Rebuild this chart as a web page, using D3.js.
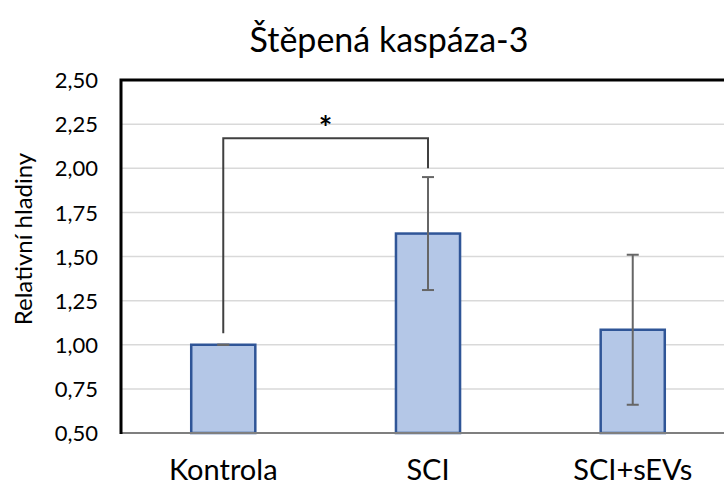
<!DOCTYPE html>
<html><head><meta charset="utf-8">
<script src="https://cdn.jsdelivr.net/npm/d3@7"></script>
<style>body{margin:0;background:#fff;}svg{display:block;}</style>
</head><body><svg id="c" width="724" height="488"></svg>
<script>
const categories = ["Kontrola", "SCI", "SCI+sEVs"];
const values = [1.00, 1.63, 1.085];
const errors = [0.0, 0.32, 0.425];
const yTicks = [0.50, 0.75, 1.00, 1.25, 1.50, 1.75, 2.00, 2.25, 2.50];
const title = "Štěpená kaspáza-3";
const yTitle = "Relativní hladiny";
// significance bracket: from, to, top level, left foot, right foot, label
const sigPair = ["Kontrola", "SCI"];
const sigLevels = [2.17, 1.065, 2.0];
const sigLabel = "*";

const svg = d3.select("#c");
const font = "Lato, 'Open Sans', sans-serif";
const L = 121, R = 735, T = 80, B = 433;
const x = d3.scaleBand().domain(categories).range([L, R]).paddingInner(0.687).paddingOuter(0.343);
const y = d3.scaleLinear().domain([0.5, 2.5]).range([B, T]);

// gridlines
svg.append("g").selectAll("line").data(yTicks.slice(1)).join("line")
  .attr("x1", L).attr("x2", 724).attr("y1", d => y(d)).attr("y2", d => y(d))
  .attr("stroke", "#d9d9d9").attr("stroke-width", 1.5);

// bars
svg.append("g").selectAll("rect").data(categories).join("rect")
  .attr("x", d => x(d)).attr("width", x.bandwidth())
  .attr("y", (d, i) => y(values[i])).attr("height", (d, i) => y(0.5) - y(values[i]))
  .attr("fill", "#b4c7e7").attr("stroke", "#2f5597").attr("stroke-width", 2.5);

// error bars
const eb = svg.append("g").attr("stroke", "#666").attr("stroke-width", 2);
categories.forEach((c, i) => {
  const cx = x(c) + x.bandwidth() / 2;
  const hi = y(values[i] + errors[i]), lo = y(values[i] - errors[i]);
  eb.append("line").attr("x1", cx).attr("x2", cx).attr("y1", hi).attr("y2", lo);
  eb.append("line").attr("x1", cx - 6).attr("x2", cx + 6).attr("y1", hi).attr("y2", hi);
  eb.append("line").attr("x1", cx - 6).attr("x2", cx + 6).attr("y1", lo).attr("y2", lo);
});

// bottom axis line
svg.append("line").attr("x1", L).attr("x2", 724).attr("y1", B).attr("y2", B)
  .attr("stroke", "#7f7f7f").attr("stroke-width", 2);

// frame top and left
svg.append("path").attr("d", `M${L},${B + 1}V${T}H724`).attr("fill", "none")
  .attr("stroke", "#000").attr("stroke-width", 3);

// y axis labels
const yAxis = d3.axisLeft(y).tickValues(yTicks).tickSize(0).tickPadding(0)
  .tickFormat(d => d3.format(".2f")(d).replace(".", ","));
const ya = svg.append("g").attr("transform", `translate(98,0)`).call(yAxis);
ya.select(".domain").remove();
ya.selectAll("text").attr("font-family", font).attr("font-size", 22).attr("fill", "#000").attr("dy", "0.35em");

// x axis labels
const xAxis = d3.axisBottom(x).tickSize(0).tickPadding(0);
const xa = svg.append("g").attr("transform", `translate(0,480)`).call(xAxis);
xa.select(".domain").remove();
xa.selectAll("text").attr("font-family", font).attr("font-size", 29).attr("fill", "#000").attr("dy", 0);

// significance bracket
const xa1 = x(sigPair[0]) + x.bandwidth() / 2, xb1 = x(sigPair[1]) + x.bandwidth() / 2;
svg.append("path")
  .attr("d", `M${xa1},${y(sigLevels[1])}V${y(sigLevels[0])}H${xb1}V${y(sigLevels[2])}`)
  .attr("fill", "none").attr("stroke", "#404040").attr("stroke-width", 2);
svg.append("text").attr("x", (xa1 + xb1) / 2).attr("y", y(sigLevels[0]) + 2)
  .attr("text-anchor", "middle").attr("font-family", font).attr("font-size", 32)
  .attr("font-weight", "bold").text(sigLabel);

// title
svg.append("text").attr("x", 389).attr("y", 52).attr("text-anchor", "middle")
  .attr("font-family", font).attr("font-size", 34).text(title);

// y title
svg.append("text").attr("transform", `translate(32,239) rotate(-90)`).attr("text-anchor", "middle")
  .attr("font-family", font).attr("font-size", 24).text(yTitle);
</script></body></html>
